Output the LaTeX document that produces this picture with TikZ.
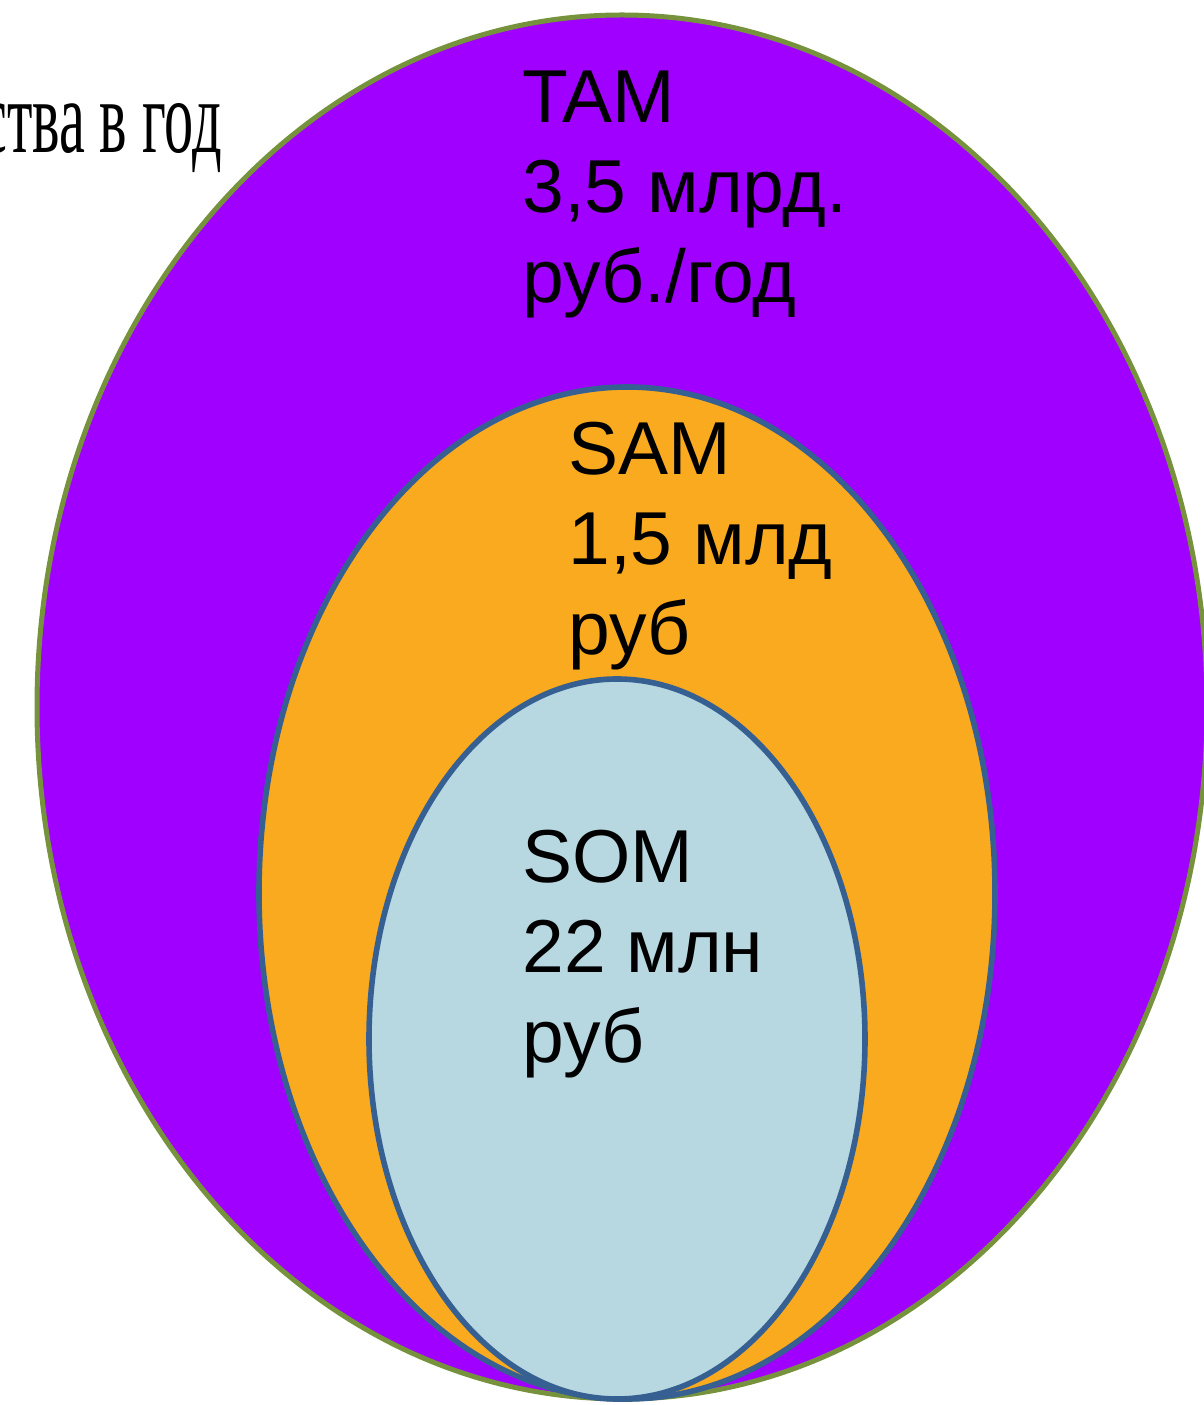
\documentclass[tikz,border=0pt]{standalone}
\usepackage{fontspec}
\setmainfont{Liberation Sans}
\newfontfamily\serifru{Liberation Serif}
\definecolor{tampurple}{RGB}{160,0,255}
\definecolor{samorange}{RGB}{250,170,30}
\definecolor{somblue}{RGB}{183,216,224}
\definecolor{olivestroke}{RGB}{118,146,60}
\definecolor{bluestroke}{RGB}{55,96,146}
\tikzset{
  label text/.style={anchor=base west, inner sep=0pt, font=\fontsize{37.5}{45}\selectfont, text=black},
  outerring/.style={fill=tampurple, draw=olivestroke, line width=2.5pt},
  innerring/.style={draw=bluestroke, line width=2.8pt}
}
\begin{document}
\begin{tikzpicture}[x=0.5pt,y=0.5pt]
\useasboundingbox (0,0) rectangle (1204,1405);
\clip (0,0) rectangle (1204,1405);
\fill[white] (0,0) rectangle (1204,1405);
% TAM
\draw[outerring] (622,698) ellipse [x radius=585, y radius=692];
% SAM
\draw[innerring, fill=samorange] (627,512) ellipse [x radius=368, y radius=506];
% SOM
\draw[innerring, fill=somblue] (617,366) ellipse [x radius=248, y radius=360];
% texts
\node[anchor=base east, inner sep=0pt, font=\serifru\fontsize{52}{60}\selectfont] (cut) at (222,1252) {\scalebox{0.56}[1]{ства в год}};
\node[label text] (tam1) at (522,1282) {TAM};
\node[label text] (tam2) at (522,1192) {3,5 млрд.};
\node[label text] (tam3) at (522,1102) {руб./год};
\node[label text] (sam1) at (568,930) {SAM};
\node[label text] (sam2) at (568,840) {1,5 млд};
\node[label text] (sam3) at (568,750) {руб};
\node[label text] (som1) at (522,522) {SOM};
\node[label text] (som2) at (522,432) {22 млн};
\node[label text] (som3) at (522,342) {руб};
\end{tikzpicture}
\end{document}
